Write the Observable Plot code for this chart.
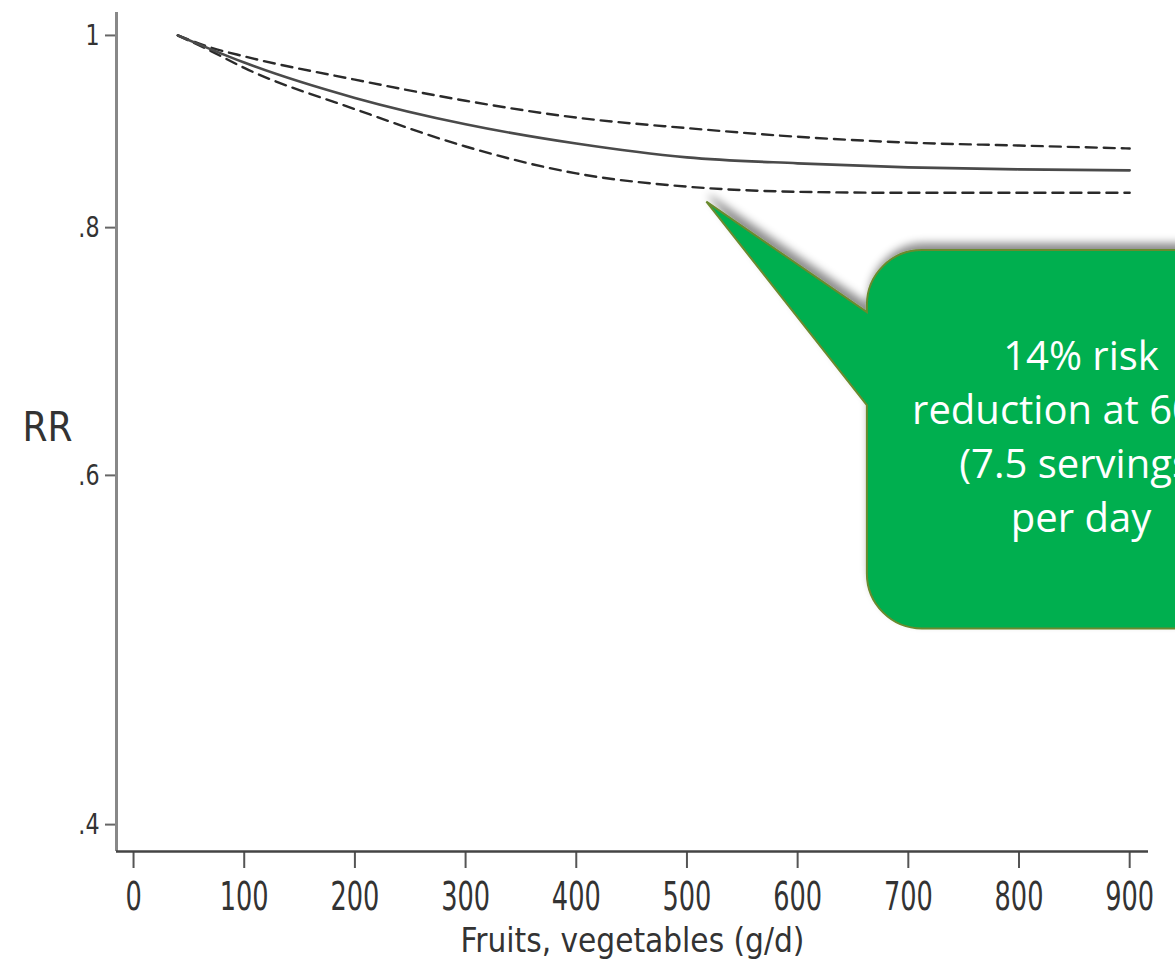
<!DOCTYPE html>
<html><head><meta charset="utf-8">
<script src="https://cdn.jsdelivr.net/npm/d3@7"></script>
<script src="https://cdn.jsdelivr.net/npm/@observablehq/plot@0.6"></script>
<style>
html,body{margin:0;padding:0;background:#fff;overflow:hidden;}
#chart{position:relative;width:1175px;height:961px;overflow:hidden;}
</style></head><body><div id="chart"></div>
<script>
// Fruit & vegetable intake (g/d) and relative risk (estimate with 95% CI)
const intake     = [40,   70,   100,  200,  300,  400,  500,  600,  700,  800,  900];
const rrEstimate = [1.0,  .984, .969, .930, .902, .882, .868, .862, .858, .856, .855];
const rrUpper    = [1.0,  .986, .976, .950, .927, .909, .898, .889, .883, .880, .877];
const rrLower    = [1.0,  .982, .963, .918, .879, .852, .839, .834, .833, .833, .833];

const xTicks = [0, 100, 200, 300, 400, 500, 600, 700, 800, 900];
const yTicks = [0.4, 0.6, 0.8, 1];
const yTickLabels = [".4", ".6", ".8", "1"];
const xLabel = "Fruits, vegetables (g/d)";
const yLabel = "RR";

const calloutLines = ["14% risk", "reduction at 600 g", "(7.5 servings)", "per day"];
const calloutTip = {x: 518, y: 0.824};
const calloutBox = {x1: 663, x2: 1050, y1: 0.779, y2: 0.502};

const xDomain = [-15.4, 917];
const yDomain = [0.3877, 1.027];

const rows = intake.map((x, i) => ({x, est: rrEstimate[i], up: rrUpper[i], lo: rrLower[i]}));
const narrow = '"Liberation Sans Narrow", "Arial Narrow", "DejaVu Sans Condensed", "Liberation Sans", sans-serif';

const plot = Plot.plot({
  width: 1175, height: 961,
  marginLeft: 116, marginRight: 27, marginTop: 12, marginBottom: 110,
  style: {background: "#fff", fontFamily: narrow, color: "#333", overflow: "hidden"},
  x: {domain: xDomain},
  y: {type: "log", domain: yDomain},
  marks: [
    Plot.axisX({ticks: xTicks, tickSize: 17, tickPadding: 14, fontSize: 39, label: null,
      tickFormat: d => String(d), stroke: "#555", strokeWidth: 2}),
    Plot.axisY({ticks: yTicks, tickSize: 11, tickPadding: 6, fontSize: 29, label: null,
      tickFormat: d => yTickLabels[yTicks.indexOf(d)], stroke: "#666", strokeWidth: 2}),
    Plot.ruleX([xDomain[0]], {stroke: "#888", strokeWidth: 3}),
    Plot.ruleY([yDomain[0]], {stroke: "#444", strokeWidth: 2.5}),
    Plot.line(rows, {x: "x", y: "up", curve: "monotone-x", stroke: "#2a2a2a", strokeWidth: 2.4, strokeDasharray: "11,7"}),
    Plot.line(rows, {x: "x", y: "lo", curve: "monotone-x", stroke: "#2a2a2a", strokeWidth: 2.4, strokeDasharray: "11,7"}),
    Plot.line(rows, {x: "x", y: "est", curve: "monotone-x", stroke: "#4a4a4a", strokeWidth: 2.6}),
    Plot.text([xLabel], {frameAnchor: "bottom", lineAnchor: "top", dy: 77, fontSize: 33, fill: "#333", ariaLabel: "x-label"}),
    Plot.text([yLabel], {frameAnchor: "left", textAnchor: "start", dx: -94, dy: -4, fontSize: 40, fill: "#333", ariaLabel: "y-label"})
  ]
});
document.getElementById("chart").appendChild(plot);

// Narrow the condensed fallback font horizontally to match the reference's narrow lettering
function squeeze(selector, s) {
  plot.querySelectorAll(selector).forEach(t => {
    const tr = t.getAttribute("transform") || "";
    t.setAttribute("transform", tr + ` scale(${s},1)`);
  });
}
squeeze('g[aria-label="x-axis tick label"] text', 0.73);
squeeze('g[aria-label="y-axis tick label"] text', 0.85);
squeeze('g[aria-label="x-label"] text', 0.9);
squeeze('g[aria-label="y-label"] text', 0.8);

// Callout annotation positioned through the plot's scales
const sx = plot.scale("x"), sy = plot.scale("y");
const tx = sx.apply(calloutTip.x), ty = sy.apply(calloutTip.y);
const L = sx.apply(calloutBox.x1), R = sx.apply(calloutBox.x2);
const T = sy.apply(calloutBox.y1), B = sy.apply(calloutBox.y2);
const r = 55;
const j1 = T + 62, j2 = T + 155;
const svg = d3.select(plot);
const defs = svg.append("defs");
const f = defs.append("filter").attr("id", "cshadow").attr("x", "-20%").attr("y", "-20%").attr("width", "140%").attr("height", "140%");
f.append("feDropShadow").attr("dx", 3).attr("dy", -6).attr("stdDeviation", 4)
  .attr("flood-color", "#000").attr("flood-opacity", 0.45);
const d = `M${tx},${ty} L${L},${j1} L${L},${T + r} A${r},${r} 0 0 1 ${L + r},${T}
  L${R - r},${T} A${r},${r} 0 0 1 ${R},${T + r} L${R},${B - r} A${r},${r} 0 0 1 ${R - r},${B}
  L${L + r},${B} A${r},${r} 0 0 1 ${L},${B - r} L${L},${j2} Z`;
svg.append("path").attr("d", d).attr("fill", "#00AF50").attr("stroke", "#6A8A2E")
  .attr("stroke-width", 2).attr("filter", "url(#cshadow)");
const cx = (L + R) / 2, cy = (T + B) / 2;
svg.append("g").attr("font-family", '"Open Sans", "Noto Sans", sans-serif').attr("font-size", 40)
  .attr("fill", "#fff").attr("text-anchor", "middle")
  .selectAll("text").data(calloutLines).join("text")
  .attr("x", cx).attr("y", (t, i) => cy + (i - 1.5) * 54 + 12).text(t => t);
</script></body></html>
